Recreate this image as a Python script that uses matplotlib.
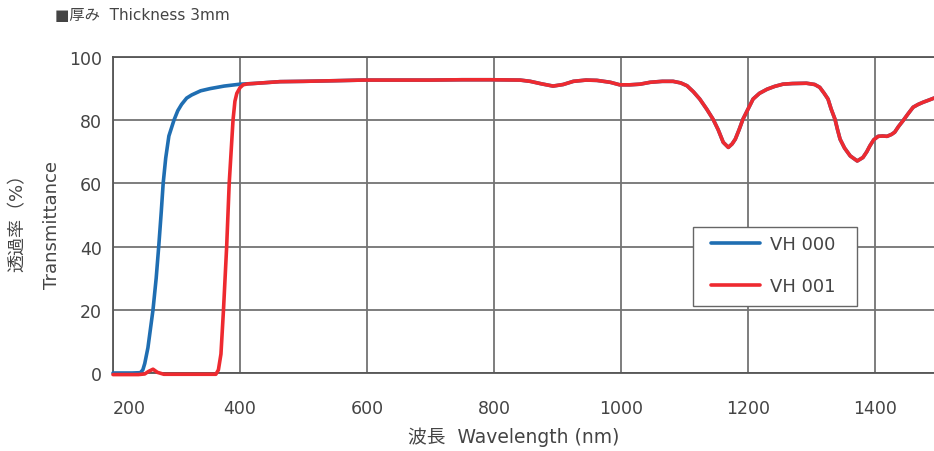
import matplotlib
matplotlib.use("Agg")
import matplotlib.pyplot as plt
from matplotlib.patches import Rectangle

# ---- data ----
wl_blue_uv = [200, 230, 243, 247, 250, 255, 259, 263, 268, 272, 276, 279, 283, 288,
              296, 302, 308, 316, 324, 338, 353, 375, 400]
t_blue_uv = [0, 0, 0.1, 1.0, 3, 8, 14, 20, 30, 40, 51, 60, 68, 75,
             80, 83, 85, 87, 88, 89.3, 90, 90.8, 91.4]

wl_red_uv = [200, 240, 250, 256, 263, 270, 280, 362, 366, 370, 374, 379, 383,
             389, 392, 395, 400, 405, 412]
t_red_uv = [-0.5, -0.5, -0.3, 0.5, 1.2, 0.2, -0.4, -0.4, 1, 6, 20, 40, 60,
            80, 86, 88.5, 90.3, 91.2, 91.5]

wl_common = [420, 463, 500, 550, 594, 650, 700, 750, 794, 841, 857, 875, 893, 909,
             925, 945, 962, 983, 998, 1014, 1030, 1046, 1065, 1082, 1094, 1104,
             1114, 1124, 1135, 1145, 1153, 1161, 1169, 1175, 1180, 1186, 1192, 1200,
             1208, 1218, 1230, 1242, 1255, 1270, 1292, 1305, 1313, 1320, 1326, 1331,
             1337, 1341, 1345, 1352, 1361, 1372, 1381, 1387, 1392, 1398, 1405, 1412,
             1419, 1426, 1431, 1437, 1444, 1452, 1460, 1468, 1476, 1484, 1493]
t_common = [91.6, 92.2, 92.3, 92.5, 92.7, 92.7, 92.7, 92.8, 92.8, 92.7, 92.3, 91.5,
            90.8, 91.3, 92.3, 92.7, 92.6, 92.0, 91.2, 91.2, 91.4, 92.0, 92.3, 92.3,
            91.8, 90.9, 89.0, 86.7, 83.5, 80.3, 77.0, 73.0, 71.4, 72.5, 74.0, 77.0,
            80.3, 83.5, 86.7, 88.5, 89.8, 90.7, 91.4, 91.6, 91.7, 91.3, 90.4, 88.5,
            86.7, 83.5, 80.3, 77.0, 74.0, 71.2, 68.7, 67.1, 68.2, 70.0, 71.9, 73.8,
            74.9, 75.0, 74.9, 75.5, 76.2, 78.0, 79.8, 82.0, 84.1, 85.0, 85.7, 86.3, 87.0]

series_names = ["VH 000", "VH 001"]
x_ticks = [200, 400, 600, 800, 1000, 1200, 1400]
y_ticks = [0, 20, 40, 60, 80, 100]

# ---- style ----
plt.rcParams['font.family'] = ['DejaVu Sans', 'Noto Sans CJK JP']
txt = '#444444'
blue = '#1f6eb2'
red = '#ee2a30'

W, H = 934, 452
fig = plt.figure(figsize=(W / 100, H / 100), dpi=100)
left, right, top, bottom = 113, 938.5, 58, 374
ax = fig.add_axes([left / W, 1 - bottom / H, (right - left) / W, (bottom - top) / H])


def axx(px):
    return (px - left) / (right - left)


def axy(py):
    return (bottom - py) / (bottom - top)


ax.plot(wl_blue_uv + wl_common, t_blue_uv + t_common, color=blue, lw=2.6,
        label=series_names[0], clip_on=False, solid_capstyle='round', zorder=3)
ax.plot(wl_red_uv + wl_common, t_red_uv + t_common, color=red, lw=2.6,
        label=series_names[1], clip_on=False, solid_capstyle='round', zorder=4)

ax.set_xlim(200, 1500)
ax.set_ylim(0, 100)
ax.set_xticks(x_ticks)
ax.set_yticks(y_ticks)
ax.grid(True, color='#737373', lw=1.3)
ax.set_axisbelow(True)
for s in ['left', 'top', 'bottom']:
    ax.spines[s].set_color('#555555')
    ax.spines[s].set_linewidth(1.3)
ax.spines['right'].set_visible(False)
ax.tick_params(length=0, labelsize=12.5, labelcolor=txt)
ax.tick_params(axis='x', pad=19)
ax.tick_params(axis='y', pad=8)
ax.get_xticklabels()[0].set_ha('left')

# legend box
ax.add_patch(Rectangle((axx(693), axy(307)), axx(857) - axx(693), axy(228) - axy(307),
                       transform=ax.transAxes, facecolor='white', edgecolor='#666666',
                       lw=1.0, zorder=5, clip_on=False))
leg = ax.legend(loc='upper left', bbox_to_anchor=(axx(711), axy(236)), borderaxespad=0,
                borderpad=0, fontsize=13, frameon=False, handlelength=2.7,
                handletextpad=0.55, labelspacing=1.35, labelcolor=txt)
leg.set_zorder(6)

fig.text(55 / W, 1 - 15 / H, '■厚み  Thickness 3mm', fontsize=11, color=txt,
         va='center', ha='left')
fig.text(514 / W, 1 - 437 / H, '波長  Wavelength (nm)', fontsize=13.5, color=txt,
         ha='center', va='center')
fig.text(18 / W, 1 - 218 / H, '透過率（%）', fontsize=13, color=txt,
         rotation=90, ha='center', va='center')
fig.text(52 / W, 1 - 225 / H, 'Transmittance', fontsize=13, color=txt,
         rotation=90, ha='center', va='center')

fig.savefig('out.png', dpi=100)
